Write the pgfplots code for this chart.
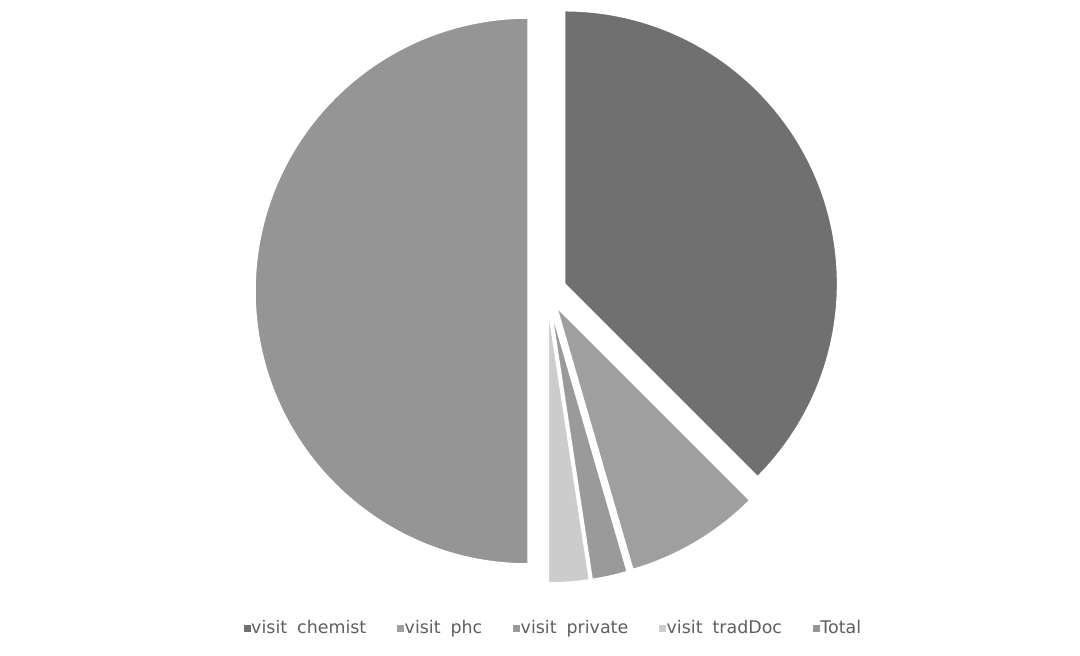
\documentclass[border=0pt]{standalone}
\usepackage{fontspec}
\setmainfont{DejaVu Sans}
\usepackage{pgfplots}
\usepackage{pgfplotstable}
\pgfplotsset{compat=1.18}

% share of each group (percent of the whole pie)
\pgfplotstableread{
name      value
chemist   37.5
phc       8.0
private   2.1
tradDoc   2.4
Total     50.0
}\piedata

\definecolor{slice0}{HTML}{707070}
\definecolor{slice1}{HTML}{9F9F9F}
\definecolor{slice2}{HTML}{9A9A9A}
\definecolor{slice3}{HTML}{CCCCCC}
\definecolor{slice4}{HTML}{959595}
\definecolor{legtext}{HTML}{5E5E5E}

% pie geometry in axis units (1 unit = 1bp)
\def\pcx{547}
\def\pcy{364}
\def\prad{273}
\def\pexp{19}

% start/end angles and exploded centre of every slice, clockwise from 12 o'clock
\gdef\cum{0}
\pgfplotsforeachungrouped \i in {0,...,4}{%
  \pgfplotstablegetelem{\i}{value}\of\piedata
  \let\v\pgfplotsretval
  \pgfmathsetmacro\sa{90-3.6*\cum}%
  \pgfmathsetmacro\sb{90-3.6*(\cum+\v)}%
  \pgfmathsetmacro\mid{(\sa+\sb)/2}%
  \pgfmathsetmacro\ox{\pcx+\pexp*cos(\mid)}%
  \pgfmathsetmacro\oy{\pcy+\pexp*sin(\mid)}%
  \pgfmathsetmacro\newcum{\cum+\v}%
  \global\let\cum\newcum
  \expandafter\xdef\csname sa\i\endcsname{\sa}%
  \expandafter\xdef\csname sb\i\endcsname{\sb}%
  \expandafter\xdef\csname ox\i\endcsname{\ox}%
  \expandafter\xdef\csname oy\i\endcsname{\oy}%
}

\newcommand\gap{\hspace{10bp}}

\begin{document}
\begin{tikzpicture}
\begin{axis}[
  width=1080bp, height=655bp, scale only axis,
  xmin=0, xmax=1080, ymin=0, ymax=655,
  enlargelimits=false,
  hide axis,
  clip=false,
  legend columns=5,
  legend image code/.code={\fill[#1] (0bp,-3bp) rectangle (6bp,3bp);},
  legend style={at={(axis cs:553,27)}, anchor=center, draw=none, fill=none,
    font=\fontsize{17.5}{20}\selectfont\color{legtext},
    nodes={inner xsep=1bp},
    /tikz/every even column/.append style={column sep=30bp}},
  legend cell align=left,
]
\path (axis cs:0,0) rectangle (axis cs:1080,655);
\pgfplotsinvokeforeach{0,...,4}{
  \fill[slice#1, draw=white, line width=1.5bp, line join=round]
    (axis cs:\csname ox#1\endcsname,\csname oy#1\endcsname)
    -- ++(\csname sa#1\endcsname:\prad bp)
    arc[start angle=\csname sa#1\endcsname, end angle=\csname sb#1\endcsname, radius=\prad bp]
    -- cycle;
}
\addlegendimage{color=slice0}
\addlegendentry{visit\gap chemist}
\addlegendimage{color=slice1}
\addlegendentry{visit\gap phc}
\addlegendimage{color=slice2}
\addlegendentry{visit\gap private}
\addlegendimage{color=slice3}
\addlegendentry{visit\gap tradDoc}
\addlegendimage{color=slice4}
\addlegendentry{Total}
\end{axis}
\end{tikzpicture}
\end{document}
